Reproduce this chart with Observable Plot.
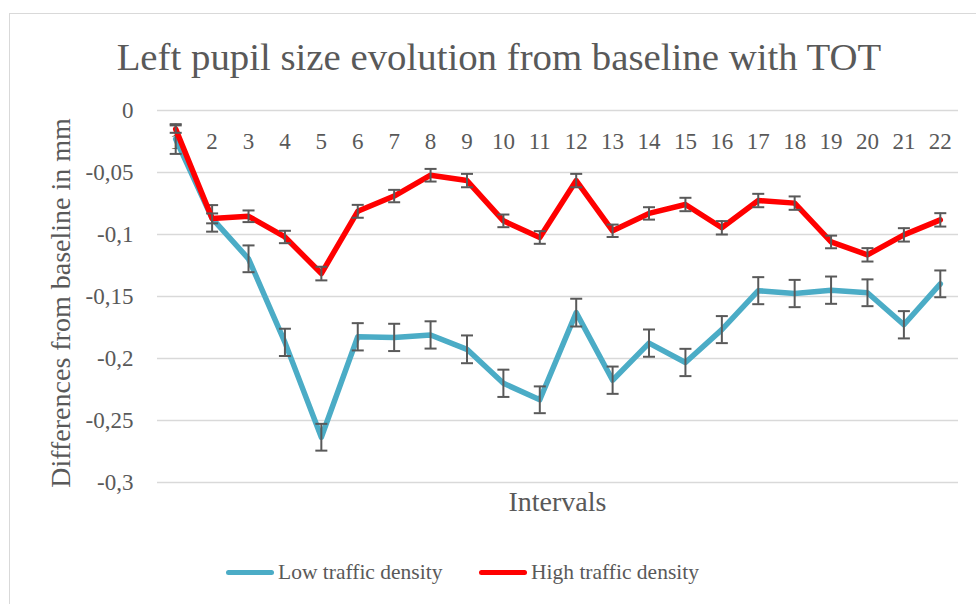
<!DOCTYPE html>
<html><head><meta charset="utf-8">
<script src="https://cdn.jsdelivr.net/npm/d3@7"></script>
<script src="https://cdn.jsdelivr.net/npm/@observablehq/plot@0.6"></script>
<style>
html,body{margin:0;padding:0;background:#fff;overflow:hidden;}
#wrap{position:relative;width:976px;height:604px;overflow:hidden;font-family:"Liberation Serif",serif;color:#595959;}
.frame{position:absolute;left:9px;top:13px;width:1000px;height:700px;border:1.5px solid #d9d9d9;box-sizing:border-box;}
.t{position:absolute;white-space:nowrap;line-height:1;}
#chart{position:absolute;left:0;top:0;}
.sw{position:absolute;height:5px;border-radius:3px;}
</style>
</head><body>
<div id="wrap">
  <div class="frame"></div>
  <div id="chart"></div>
  <div class="t" id="title" style="left:0;width:998px;text-align:center;top:37.5px;font-size:38.8px;"></div>
  <div class="t" id="xlab" style="left:0;width:1115px;text-align:center;top:488px;font-size:28px;"></div>
  <div class="t" id="ylab" style="left:60.5px;top:303px;font-size:28px;transform:translate(-50%,-50%) rotate(-90deg);"></div>
  <div class="sw" style="left:226px;width:48px;top:569.5px;background:#4BACC6;"></div>
  <div class="t" id="leg1" style="left:278px;top:562px;font-size:21.5px;"></div>
  <div class="sw" style="left:479px;width:48px;top:569.5px;background:#FF0000;"></div>
  <div class="t" id="leg2" style="left:531px;top:562px;font-size:21.5px;"></div>
</div>
<script>
// ---- data ----
const titleText = "Left pupil size evolution from baseline with TOT";
const xTitle = "Intervals";
const yTitle = "Differences from baseline in mm";
const seriesNames = ["Low traffic density", "High traffic density"];
const seriesColors = ["#4BACC6", "#FF0000"];
const intervals = [1,2,3,4,5,6,7,8,9,10,11,12,13,14,15,16,17,18,19,20,21,22];
const lowMean = [-0.023,-0.087,-0.1196,-0.187,-0.2635,-0.1825,-0.183,-0.181,-0.1926,-0.220,-0.2333,-0.163,-0.2175,-0.1876,-0.2032,-0.1767,-0.1453,-0.1476,-0.1449,-0.147,-0.1728,-0.1398];
const lowErr  = [0.012,0.0107,0.0108,0.011,0.0108,0.011,0.011,0.011,0.0112,0.011,0.0108,0.0112,0.011,0.011,0.011,0.0109,0.0109,0.011,0.011,0.0108,0.011,0.0108];
const highMean = [-0.015,-0.087,-0.0853,-0.102,-0.1315,-0.0813,-0.069,-0.0522,-0.0565,-0.089,-0.1024,-0.0565,-0.097,-0.083,-0.0758,-0.0946,-0.0726,-0.0747,-0.106,-0.1164,-0.1003,-0.0882];
const highErr  = [0.003,0.004,0.0047,0.005,0.0055,0.0052,0.005,0.0051,0.0054,0.0051,0.0051,0.0054,0.005,0.005,0.0054,0.0054,0.0054,0.0054,0.0051,0.0054,0.0054,0.0054];
const yTicks = [0,-0.05,-0.1,-0.15,-0.2,-0.25,-0.3];
const xLabels = ["1","2","3","4","5","6","7","8","9","10","11","12","13","14","15","16","17","18","19","20","21","22"];

// ---- build ----
const low = intervals.map((k,i)=>({k, v: lowMean[i], e: lowErr[i]}));
const high = intervals.map((k,i)=>({k, v: highMean[i], e: highErr[i]}));
const capHalf = 0.165;
const textColor = "#595959";

function errMarks(rows){
  return [
    Plot.ruleX(rows, {x:"k", y1: d=>d.v-d.e, y2: d=>d.v+d.e, stroke:textColor, strokeWidth:2}),
    Plot.link(rows, {x1: d=>d.k-capHalf, x2: d=>d.k+capHalf, y1: d=>d.v+d.e, y2: d=>d.v+d.e, stroke:textColor, strokeWidth:2}),
    Plot.link(rows, {x1: d=>d.k-capHalf, x2: d=>d.k+capHalf, y1: d=>d.v-d.e, y2: d=>d.v-d.e, stroke:textColor, strokeWidth:2})
  ];
}

const chart = Plot.plot({
  width: 976, height: 604,
  marginTop: 110, marginBottom: 122, marginLeft: 157, marginRight: 18,
  style: {fontFamily: '"Liberation Serif", serif', color: textColor, background: "transparent", overflow: "visible"},
  x: {type: "linear", domain: [0.5, 22.5], axis: null},
  y: {domain: [-0.3, 0], axis: null},
  marks: [
    Plot.gridY(yTicks, {stroke: "#d9d9d9", strokeOpacity: 1, strokeWidth: 1.3}),
    Plot.axisY(yTicks, {tickSize: 0, tickPadding: 24, fontSize: 23, fill: textColor,
      tickFormat: d => String(d).replace(".", ","), label: null}),
    Plot.text(intervals, {x: d=>d, y: () => 0, text: (d,i) => xLabels[i], dy: 31, fontSize: 23, fill: textColor}),
    Plot.line(low, {x:"k", y:"v", stroke: seriesColors[0], strokeWidth: 5.5, strokeLinejoin: "round", strokeLinecap: "round"}),
    ...errMarks(low),
    Plot.line(high, {x:"k", y:"v", stroke: seriesColors[1], strokeWidth: 5.5, strokeLinejoin: "round", strokeLinecap: "round"}),
    ...errMarks(high)
  ]
});
document.getElementById("chart").appendChild(chart);
document.getElementById("title").textContent = titleText;
document.getElementById("xlab").textContent = xTitle;
document.getElementById("ylab").textContent = yTitle;
document.getElementById("leg1").textContent = seriesNames[0];
document.getElementById("leg2").textContent = seriesNames[1];
</script>
</body></html>
